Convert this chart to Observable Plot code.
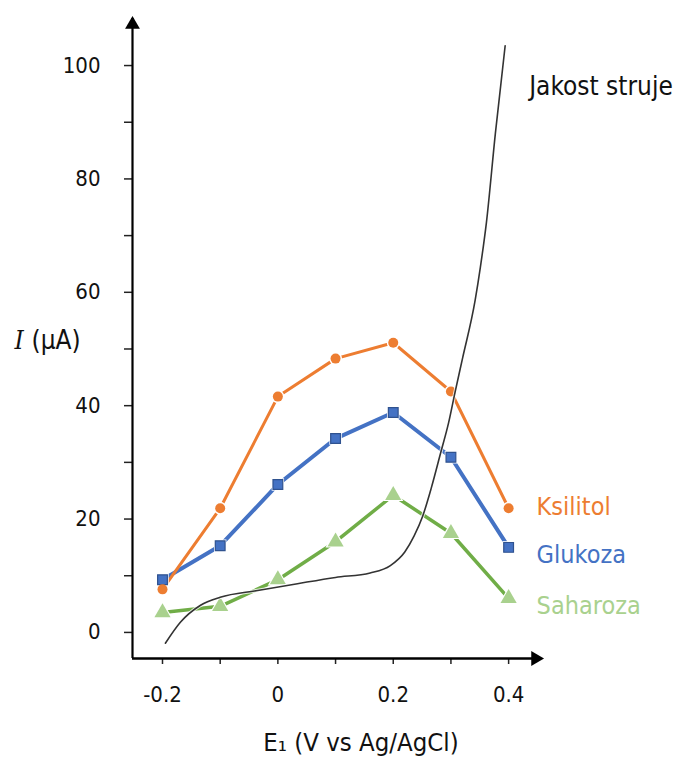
<!DOCTYPE html>
<html>
<head>
<meta charset="utf-8">
<script src="https://cdn.jsdelivr.net/npm/d3@7"></script>
<script src="https://cdn.jsdelivr.net/npm/@observablehq/plot@0.6"></script>
<style>
  html, body { margin: 0; padding: 0; background: #fff; }
  #chart svg { font-family: "DejaVu Sans Condensed", "DejaVu Sans", sans-serif; font-stretch: condensed; }
</style>
</head>
<body>
<div id="chart"></div>
<script>
// ---- data ----
const potentials = [-0.2, -0.1, 0, 0.1, 0.2, 0.3, 0.4];
const ksilitol = [7.6, 21.9, 41.6, 48.3, 51.1, 42.5, 21.9];
const glukoza  = [9.3, 15.3, 26.1, 34.2, 38.8, 30.9, 15.0];
const saharoza = [3.5, 4.6, 9.3, 16.0, 24.2, 17.5, 6.0];

// background current curve ("Jakost struje")
const currentE = [-0.195, -0.169, -0.134, -0.1, -0.035, 0.034, 0.1, 0.16, 0.195, 0.22, 0.236, 0.251, 0.266, 0.282, 0.296, 0.307, 0.32, 0.342, 0.351, 0.3615, 0.377, 0.394];
const currentI = [-1.9, 1.8, 4.8, 6.2, 7.4, 8.6, 9.7, 10.5, 11.8, 14.2, 17.0, 20.5, 25.5, 31.6, 37.0, 42.3, 48.3, 58.6, 64.4, 72.3, 88.0, 103.5];

const yTicks = [0, 10, 20, 30, 40, 50, 60, 70, 80, 90, 100];
const yTickLabels = [0, 20, 40, 60, 80, 100];
const xTicks = [-0.2, -0.1, 0, 0.1, 0.2, 0.3, 0.4];
const xTickLabels = [-0.2, 0, 0.2, 0.4];

const seriesNames = ["Ksilitol", "Glukoza", "Saharoza"];
const seriesColors = ["#ED7D31", "#4472C4", "#70AD47"];
const labelColors = ["#ED7D31", "#4472C4", "#A9D18E"];

// ---- tables ----
const rows = (vals) => potentials.map((e, i) => ({E: e, I: vals[i]}));
const ks = rows(ksilitol), gl = rows(glukoza), sa = rows(saharoza);
const cur = currentE.map((e, i) => ({E: e, I: currentI[i]}));

const xDomain = [-0.252, 0.457];
const yDomain = [-4.6, 108.3];

const labelFont = 25;
const tickFont = 22;

const chart = Plot.plot({
  width: 678,
  height: 757,
  marginLeft: 132,
  marginRight: 137,
  marginTop: 18,
  marginBottom: 99,
  style: {background: "#fff", color: "#111", overflow: "visible"},
  x: {domain: xDomain},
  y: {domain: yDomain},
  marks: [
    // axes
    Plot.axisY({ticks: yTicks, tickSize: 8, tickPadding: 24, fontSize: tickFont,
      tickFormat: d => yTickLabels.includes(d) ? String(d) : "", stroke: "#222", strokeWidth: 1.5, label: null}),
    Plot.axisX({ticks: xTicks, tickSize: 6, tickPadding: 22, fontSize: tickFont,
      tickFormat: d => xTickLabels.some(v => Math.abs(v - d) < 1e-9) ? String(+d.toFixed(1)) : "", stroke: "#222", strokeWidth: 1.5, label: null}),
    Plot.ruleX([xDomain[0]], {stroke: "#000", strokeWidth: 2.2}),
    Plot.ruleY([yDomain[0]], {stroke: "#000", strokeWidth: 2.6}),
    Plot.dot([{x: xDomain[0], y: yDomain[1]}], {x: "x", y: "y", symbol: "triangle", r: 5.5, fill: "#000", dy: 6}),
    Plot.dot([{x: xDomain[1], y: yDomain[0]}], {x: "x", y: "y", symbol: "triangle", r: 5.5, fill: "#000", rotate: 90, dx: -6}),

    // series lines
    Plot.line(sa, {x: "E", y: "I", stroke: seriesColors[2], strokeWidth: 3.5}),
    Plot.line(gl, {x: "E", y: "I", stroke: seriesColors[1], strokeWidth: 4}),
    Plot.line(ks, {x: "E", y: "I", stroke: seriesColors[0], strokeWidth: 3}),

    // marker halos
    Plot.dot(sa, {x: "E", y: "I", symbol: "triangle", r: 7.5, fill: "#fff"}),
    Plot.dot(gl, {x: "E", y: "I", symbol: "square", r: 7, fill: "#fff"}),
    Plot.dot(ks, {x: "E", y: "I", r: 6.5, fill: "#fff"}),
    // markers
    Plot.dot(sa, {x: "E", y: "I", symbol: "triangle", r: 6, fill: "#A9D18E"}),
    Plot.dot(gl, {x: "E", y: "I", symbol: "square", r: 5.5, fill: "#4472C4", stroke: "#2F528F", strokeWidth: 1.2}),
    Plot.dot(ks, {x: "E", y: "I", r: 5, fill: "#ED7D31"}),

    // background current
    Plot.line(cur, {x: "E", y: "I", curve: "monotone-x", stroke: "#fff", strokeWidth: 3.5, strokeOpacity: 0.8}),
    Plot.line(cur, {x: "E", y: "I", curve: "monotone-x", stroke: "#333", strokeWidth: 1.6}),

    // series labels next to last points
    Plot.text([ks[ks.length - 1]], {x: "E", y: "I", text: () => seriesNames[0], fill: labelColors[0], fontSize: labelFont, textAnchor: "start", dx: 28, dy: -1}),
    Plot.text([gl[gl.length - 1]], {x: "E", y: "I", text: () => seriesNames[1], fill: labelColors[1], fontSize: labelFont, textAnchor: "start", dx: 28, dy: 8}),
    Plot.text([sa[sa.length - 1]], {x: "E", y: "I", text: () => seriesNames[2], fill: labelColors[2], fontSize: labelFont, textAnchor: "start", dx: 28, dy: 8}),
    Plot.text([cur[cur.length - 1]], {x: "E", y: "I", text: () => "Jakost struje", fill: "#111", fontSize: 26, textAnchor: "start", dx: 24, dy: 41}),

    // axis titles
    Plot.text(["I"], {frameAnchor: "left", text: d => d, dx: -118, dy: 2, textAnchor: "start", fontSize: 26, fontStyle: "italic", fontFamily: "DejaVu Serif, serif", fill: "#111"}),
    Plot.text(["(µA)"], {frameAnchor: "left", text: d => d, dx: -101, dy: 2, textAnchor: "start", fontSize: 26, fill: "#111"}),
    Plot.text(["E\u2081 (V vs Ag/AgCl)"], {frameAnchor: "bottom", text: d => d, dx: 24, dy: 92, fontSize: 25.5, fill: "#111"})
  ]
});
document.getElementById("chart").appendChild(chart);
</script>
</body>
</html>
